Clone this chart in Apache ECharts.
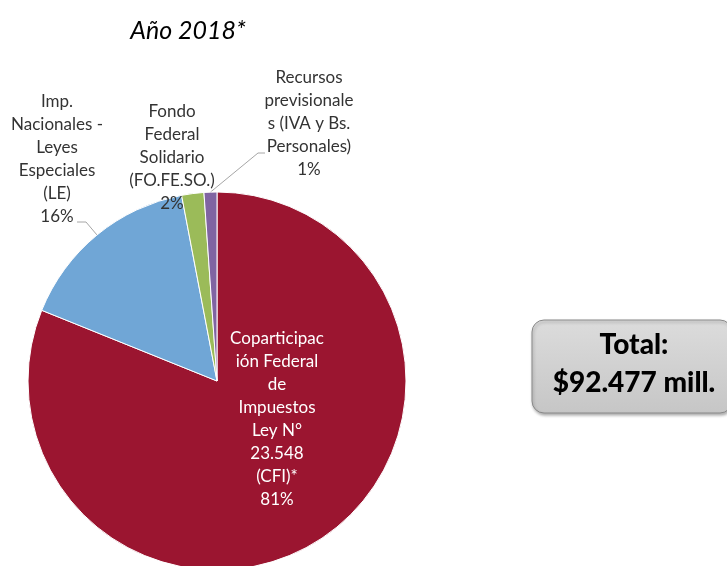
<!DOCTYPE html>
<html>
<head>
<meta charset="utf-8">
<script src="https://cdn.jsdelivr.net/npm/echarts@6/dist/echarts.min.js"></script>
<style>
  html, body { margin: 0; padding: 0; background: #fff; }
  #chart { width: 727px; height: 566px; }
</style>
</head>
<body>
<div id="chart"></div>
<script>
// slice names (line breaks as wrapped in the original)
const categories = [
    "Coparticipac\nión Federal\nde\nImpuestos\nLey N°\n23.548\n(CFI)*",
    "Imp.\nNacionales -\nLeyes\nEspeciales\n(LE)",
    "Fondo\nFederal\nSolidario\n(FO.FE.SO.)",
    "Recursos\nprevisionale\ns (IVA y Bs.\nPersonales)"
]
// share of total, in percent
const shares = [81.1, 15.9, 1.9, 1.1]
const pctLabels = ["81%", "16%", "2%", "1%"]
const colors = ["#9b1530", "#70a6d6", "#9bbb59", "#8064a2"]
const titleText = "Año 2018*"
const totalText = "Total:\n$92.477 mill."

// where each label block sits (center of the text block)
const labelSpots = [[277, 419], [57, 159], [172, 158], [309, 124]]
// elbow and end of the leader lines (start comes from the pie)
const guideEnds = [null, [[86, 222], [77, 222]], null, [[258, 153], [265, 153]]]

var chartDom = document.getElementById('chart');
var myChart = echarts.init(chartDom);
var option;

option = {
    backgroundColor: '#ffffff',
    animation: false,
    title: {
        text: titleText,
        left: 183,
        top: 13,
        textAlign: 'center',
        textStyle: {
            fontFamily: 'Lato',
            fontStyle: 'italic',
            fontWeight: 'normal',
            fontSize: 25,
            color: '#000'
        }
    },
    graphic: [
        {
            // total box
            type: 'rect',
            shape: { x: 532, y: 320, width: 200, height: 93, r: 12 },
            style: {
                fill: {
                    type: 'linear', x: 0, y: 0, x2: 0, y2: 1,
                    colorStops: [
                        { offset: 0, color: '#dcdcdc' },
                        { offset: 1, color: '#c6c6c6' }
                    ]
                },
                stroke: '#8a8a8a',
                lineWidth: 1,
                shadowBlur: 3,
                shadowOffsetX: 1,
                shadowOffsetY: 2,
                shadowColor: 'rgba(0,0,0,0.3)'
            }
        },
        {
            type: 'text',
            x: 634,
            y: 364,
            style: {
                text: totalText,
                align: 'center',
                verticalAlign: 'middle',
                fontFamily: 'Lato',
                fontWeight: 900,
                fontSize: 28,
                lineHeight: 38,
                fill: '#000'
            }
        }
    ],
    series: [
        {
            type: 'pie',
            center: [217, 381],
            radius: 189,
            startAngle: 90,
            clockwise: true,
            avoidLabelOverlap: false,
            itemStyle: {
                borderColor: '#ffffff',
                borderWidth: 1
            },
            label: {
                show: true,
                formatter: (p) => p.name + '\n' + pctLabels[p.dataIndex],
                fontFamily: 'Lato',
                fontSize: 17,
                lineHeight: 23,
                color: '#333333',
                align: 'center'
            },
            labelLine: {
                show: true,
                length: 10,
                length2: 10,
                lineStyle: { color: '#a6a6a6', width: 1 }
            },
            labelLayout: function (params) {
                let i = params.dataIndex
                let spot = labelSpots[i]
                let out = {
                    x: spot[0],
                    y: spot[1],
                    align: 'center',
                    verticalAlign: 'middle'
                }
                if (guideEnds[i] && params.labelLinePoints) {
                    out.labelLinePoints = [params.labelLinePoints[0]].concat(guideEnds[i])
                }
                return out
            },
            data: shares.map((v, i) => {
                let item = {
                    name: categories[i],
                    value: v,
                    itemStyle: { color: colors[i] }
                }
                if (i === 0) {
                    item.label = { position: 'inside', color: '#ffffff' }
                    item.labelLine = { show: false }
                }
                if (i === 2) {
                    item.labelLine = { show: false }
                }
                return item
            })
        }
    ]
};

option && myChart.setOption(option);
</script>
</body>
</html>
